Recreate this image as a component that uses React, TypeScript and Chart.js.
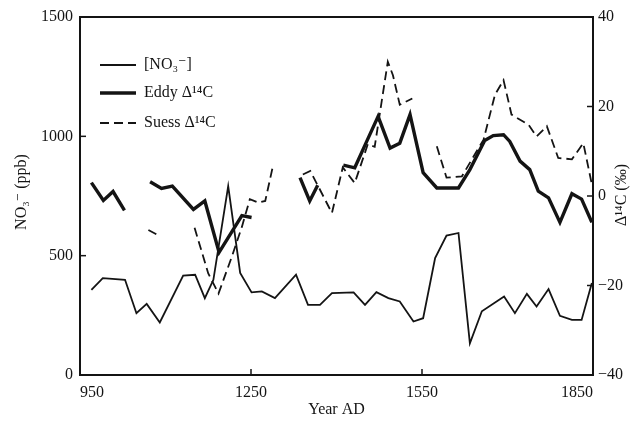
import React, { useEffect, useRef } from "react";
import { Chart, registerables } from "chart.js";

Chart.register(...registerables);

// ---- data ----
const no3Years = [970, 990, 1029, 1049, 1067, 1090, 1131, 1152, 1169, 1184, 1210, 1231, 1251, 1269, 1292, 1329, 1350, 1371, 1392, 1430, 1450, 1470, 1491, 1511, 1535, 1552, 1573, 1593, 1614, 1634, 1655, 1694, 1713, 1734, 1751, 1772, 1792, 1813, 1830, 1848];
const no3Values = [357, 406, 399, 259, 298, 220, 416, 420, 322, 399, 791, 428, 346, 350, 322, 420, 294, 294, 343, 346, 294, 347, 322, 308, 224, 238, 490, 584, 595, 133, 267, 329, 259, 340, 287, 360, 248, 231, 231, 385];

// null values break the line (gaps in the record)
const eddyYears = [970, 991, 1008, 1028, 1050, 1073, 1093, 1112, 1149, 1169, 1194, 1234, 1251, 1300, 1336, 1353, 1367, 1390, 1412, 1432, 1453, 1473, 1494, 1511, 1529, 1552, 1576, 1614, 1634, 1660, 1675, 1693, 1704, 1722, 1739, 1754, 1772, 1792, 1813, 1830, 1848];
const eddyValues = [3.0, -1.0, 1.0, -3.2, null, 3.2, 1.7, 2.2, -3.0, -1.1, -12.6, -4.4, -4.8, null, 4.1, -1.1, 2.4, null, 6.9, 6.3, 12.2, 17.8, 10.7, 11.8, 18.2, 5.2, 1.8, 1.8, 5.9, 12.4, 13.5, 13.7, 12.2, 7.8, 5.9, 1.1, -0.4, -5.9, 0.5, -0.7, -5.9];

const suessYears = [1070, 1089, 1120, 1151, 1175, 1193, 1216, 1234, 1248, 1263, 1275, 1289, 1315, 1341, 1354, 1392, 1411, 1432, 1455, 1467, 1490, 1499, 1511, 1533, 1555, 1576, 1593, 1620, 1658, 1678, 1693, 1707, 1737, 1751, 1769, 1789, 1813, 1833, 1848];
const suessValues = [-7.6, -8.9, null, -7.1, -17.3, -21.8, -13.7, -6.9, -0.7, -1.5, -1.1, 7.0, null, 4.8, 5.6, -3.8, 6.4, 2.9, 11.6, 11.0, 30.0, 27.0, 20.4, 21.8, null, 11.1, 4.1, 4.4, 12.6, 22.6, 25.9, 18.2, 15.9, 13.3, 15.6, 8.5, 8.2, 11.8, 2.6];

const yearTicks = [950, 1250, 1550, 1850];
const no3Ticks = [0, 500, 1000, 1500];
const c14Ticks = [-40, -20, 0, 20, 40];

const seriesLabels = ["[NO₃⁻]", "Eddy Δ¹⁴C", "Suess Δ¹⁴C"];
const xTitle = "Year AD";
const leftTitle = "NO₃⁻ (ppb)";
const rightTitle = "Δ¹⁴C (‰)";

const FONT = "'Liberation Serif', 'DejaVu Serif', 'Times New Roman', serif";
const INK = "#141414";

function toPoints(xs: number[], ys: (number | null)[]) {
  return xs.map((x, i) => ({ x, y: ys[i] }));
}

function plain(v: any) {
  const n = Number(v);
  return n < 0 ? "−" + Math.abs(n) : String(n);
}

const decorPlugin = {
  id: "decor",
  afterDraw(chart: any) {
    const { ctx, chartArea: a, scales } = chart;
    ctx.save();
    // frame
    ctx.strokeStyle = INK;
    ctx.lineWidth = 2;
    ctx.strokeRect(a.left, a.top, a.right - a.left, a.bottom - a.top);
    // inward tick marks
    ctx.lineWidth = 1.5;
    const tl = 6;
    yearTicks.forEach((v) => {
      const px = scales.x.getPixelForValue(v);
      ctx.beginPath();
      ctx.moveTo(px, a.bottom);
      ctx.lineTo(px, a.bottom - tl);
      ctx.stroke();
    });
    no3Ticks.forEach((v) => {
      const py = scales.y.getPixelForValue(v);
      ctx.beginPath();
      ctx.moveTo(a.left, py);
      ctx.lineTo(a.left + tl, py);
      ctx.stroke();
    });
    c14Ticks.forEach((v) => {
      const py = scales.y1.getPixelForValue(v);
      ctx.beginPath();
      ctx.moveTo(a.right, py);
      ctx.lineTo(a.right - tl, py);
      ctx.stroke();
    });

    // axis titles
    ctx.fillStyle = INK;
    ctx.font = `16px ${FONT}`;
    ctx.textAlign = "center";
    ctx.textBaseline = "middle";
    ctx.fillText(xTitle, (a.left + a.right) / 2, 410);
    ctx.save();
    ctx.translate(22, 192);
    ctx.rotate(-Math.PI / 2);
    ctx.fillText(leftTitle, 0, 0);
    ctx.restore();
    ctx.save();
    ctx.translate(622, 195);
    ctx.rotate(-Math.PI / 2);
    ctx.fillText(rightTitle, 0, 0);
    ctx.restore();

    // legend inside plot
    const lx0 = a.left + 20;
    const lx1 = a.left + 56;
    const tx = a.left + 64;
    const rows = [a.top + 48, a.top + 76, a.top + 106];
    chart.data.datasets.forEach((ds: any, i: number) => {
      const y = rows[i];
      ctx.save();
      ctx.strokeStyle = ds.borderColor;
      ctx.lineWidth = ds.borderWidth;
      ctx.setLineDash(ds.borderDash || []);
      ctx.beginPath();
      ctx.moveTo(lx0, y);
      ctx.lineTo(lx1, y);
      ctx.stroke();
      ctx.restore();
      ctx.textAlign = "left";
      ctx.fillText(ds.label, tx, y);
    });
    ctx.restore();
  },
};

export default function App() {
  const ref = useRef<HTMLCanvasElement | null>(null);

  useEffect(() => {
    if (!ref.current) return;
    const tickFont = { family: FONT, size: 16 };
    const chart = new Chart(ref.current, {
      type: "line",
      data: {
        datasets: [
          {
            label: seriesLabels[0],
            data: toPoints(no3Years, no3Values),
            yAxisID: "y",
            borderColor: INK,
            borderWidth: 1.8,
            pointRadius: 0,
            tension: 0,
            spanGaps: false,
          },
          {
            label: seriesLabels[1],
            data: toPoints(eddyYears, eddyValues),
            yAxisID: "y1",
            borderColor: INK,
            borderWidth: 3.4,
            pointRadius: 0,
            tension: 0,
            spanGaps: false,
          },
          {
            label: seriesLabels[2],
            data: toPoints(suessYears, suessValues),
            yAxisID: "y1",
            borderColor: INK,
            borderWidth: 1.8,
            borderDash: [9, 5],
            pointRadius: 0,
            tension: 0,
            spanGaps: false,
          },
        ],
      },
      options: {
        animation: false,
        responsive: false,
        maintainAspectRatio: false,
        layout: { padding: { top: 17, left: 0, right: 0, bottom: 0 } },
        plugins: { legend: { display: false }, tooltip: { enabled: false } },
        scales: {
          x: {
            type: "linear",
            min: 950,
            max: 1850,
            grid: { display: false, drawTicks: false },
            border: { display: false },
            afterFit: (s: any) => { s.height = 55; },
            afterBuildTicks: (s: any) => { s.ticks = yearTicks.map((v) => ({ value: v })); },
            ticks: { font: tickFont, color: INK, padding: 8, align: "inner", maxRotation: 0, callback: plain },
          },
          y: {
            type: "linear",
            position: "left",
            min: 0,
            max: 1500,
            grid: { display: false, drawTicks: false },
            border: { display: false },
            afterFit: (s: any) => { s.width = 80; },
            afterBuildTicks: (s: any) => { s.ticks = no3Ticks.map((v) => ({ value: v })); },
            ticks: { font: tickFont, color: INK, padding: 7, callback: plain },
          },
          y1: {
            type: "linear",
            position: "right",
            min: -40,
            max: 40,
            grid: { display: false, drawTicks: false },
            border: { display: false },
            afterFit: (s: any) => { s.width = 42; },
            afterBuildTicks: (s: any) => { s.ticks = c14Ticks.map((v) => ({ value: v })); },
            ticks: { font: tickFont, color: INK, padding: 5, callback: plain },
          },
        },
      },
      plugins: [decorPlugin],
    } as any);
    return () => chart.destroy();
  }, []);

  return (
    <div style={{ position: "fixed", left: 0, top: 0, width: 635, height: 430, background: "#fff" }}>
      <canvas ref={ref} width={635} height={430} style={{ display: "block", width: 635, height: 430 }} />
    </div>
  );
}
